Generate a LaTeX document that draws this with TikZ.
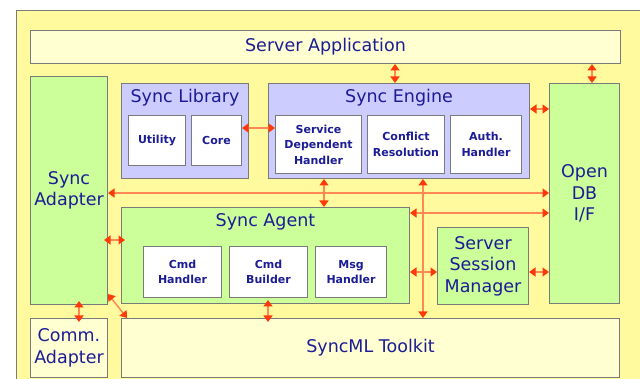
\documentclass[tikz,border=0pt]{standalone}
\usepackage{fontspec}
\setmainfont{DejaVu Sans}
\usetikzlibrary{arrows.meta}

\definecolor{frameyellow}{HTML}{FFFA9E}
\definecolor{paleyellow}{HTML}{FFFFD2}
\definecolor{agentgreen}{HTML}{CCFF99}
\definecolor{enginelilac}{HTML}{CCCCFF}
\definecolor{edgegray}{HTML}{7A7A7A}
\definecolor{labelblue}{HTML}{1C1C96}
\definecolor{linkorange}{HTML}{FF8855}
\definecolor{tiporange}{HTML}{FF3A0A}

\tikzset{
  block/.style={draw=edgegray,line width=1pt,anchor=north west,inner sep=0pt},
  title/.style={text=labelblue,font=\fontsize{17.5}{21.5}\selectfont,align=center},
  part/.style={block,fill=white,text=labelblue,align=center,
    font=\bfseries\fontsize{11}{15.5}\selectfont},
  link/.style={draw=linkorange,line width=1.5pt,
    {Triangle[width=9pt,length=6.5pt,color=tiporange]}-{Triangle[width=9pt,length=6.5pt,color=tiporange]}},
  shortlink/.style={link,shorten <=-4pt,shorten >=-4pt}
}

\begin{document}
\begin{tikzpicture}[x=1pt,y=-1pt]
  \useasboundingbox (0,0) rectangle (640,379);
  % Rahmen
  \fill[frameyellow] (16,11) rectangle (640,379);
  \draw[edgegray,line width=1pt] (16,379) -- (16,11) -- (640,11);

  % Server Application
  \node[block,fill=paleyellow,minimum width=590,minimum height=33,title] (app) at (30,30) {Server Application};

  % Adapter
  \node[block,fill=agentgreen,minimum width=77,minimum height=228,title] (adapter) at (30,76) {Sync\\Adapter};
  \node[block,fill=paleyellow,minimum width=77,minimum height=59,title] (comm) at (30,318) {Comm.\\Adapter};

  % Sync Library
  \node[block,fill=enginelilac,minimum width=127,minimum height=95] (lib) at (121,83) {};
  \node[title] (libtitle) at ([yshift=-15]lib.north) {Sync Library};
  \node[part,minimum width=57,minimum height=50] (utility) at (128,115) {Utility};
  \node[part,minimum width=50,minimum height=50] (core) at (191,115) {Core};

  % Sync Engine
  \node[block,fill=enginelilac,minimum width=261,minimum height=95] (engine) at (268,83) {};
  \node[title] (enginetitle) at ([yshift=-15]engine.north) {Sync Engine};
  \node[part,minimum width=86,minimum height=58] (svc) at (275,115) {Service\\Dependent\\Handler};
  \node[part,minimum width=77,minimum height=58] (conflict) at (367,115) {Conflict\\Resolution};
  \node[part,minimum width=71,minimum height=58] (auth) at (450,115) {Auth.\\Handler};

  % Open DB I/F
  \node[block,fill=agentgreen,minimum width=70,minimum height=220,title] (db) at (549,83) {Open\\DB\\I/F};

  % Sync Agent
  \node[block,fill=agentgreen,minimum width=288,minimum height=96] (agent) at (121,207) {};
  \node[title] (agenttitle) at ([yshift=-15]agent.north) {Sync Agent};
  \node[part,minimum width=78,minimum height=51] (cmdh) at (143,246) {Cmd\\Handler};
  \node[part,minimum width=78,minimum height=51] (cmdb) at (229,246) {Cmd\\Builder};
  \node[part,minimum width=71,minimum height=51] (msgh) at (315,246) {Msg\\Handler};

  % Server Session Manager
  \node[block,fill=agentgreen,minimum width=91,minimum height=77,title] (ssm) at (437,227) {Server\\Session\\Manager};

  % SyncML Toolkit
  \node[block,fill=paleyellow,minimum width=498,minimum height=59,title] (toolkit) at (121,318) {SyncML Toolkit};

  % Verbindungen
  \draw[link] (app.south -| 395,0) -- (engine.north -| 395,0);
  \draw[link] (app.south -| 592,0) -- (db.north -| 592,0);
  \draw[link] (core.east |- 0,128) -- (svc.west |- 0,128);
  \draw[link] (engine.east |- 0,109) -- (db.west |- 0,109);
  \draw[link] (adapter.east |- 0,193) -- (db.west |- 0,193);
  \draw[link] (engine.south -| 324,0) -- (agent.north -| 324,0);
  \draw[link] (engine.south -| 423,0) -- (toolkit.north -| 423,0);
  \draw[link] (agent.east |- 0,213) -- (db.west |- 0,213);
  \draw[shortlink] (adapter.east |- 0,240) -- (agent.west |- 0,240);
  \draw[link] (agent.east |- 0,272) -- (ssm.west |- 0,272);
  \draw[link] (ssm.east |- 0,272) -- (db.west |- 0,272);
  \draw[shortlink] (adapter.south -| 79,0) -- (comm.north -| 79,0);
  \draw[link] (adapter.east |- 0,294) -- (toolkit.north -| 127,0);
  \draw[shortlink] (agent.south -| 268,0) -- (toolkit.north -| 268,0);
\end{tikzpicture}
\end{document}
